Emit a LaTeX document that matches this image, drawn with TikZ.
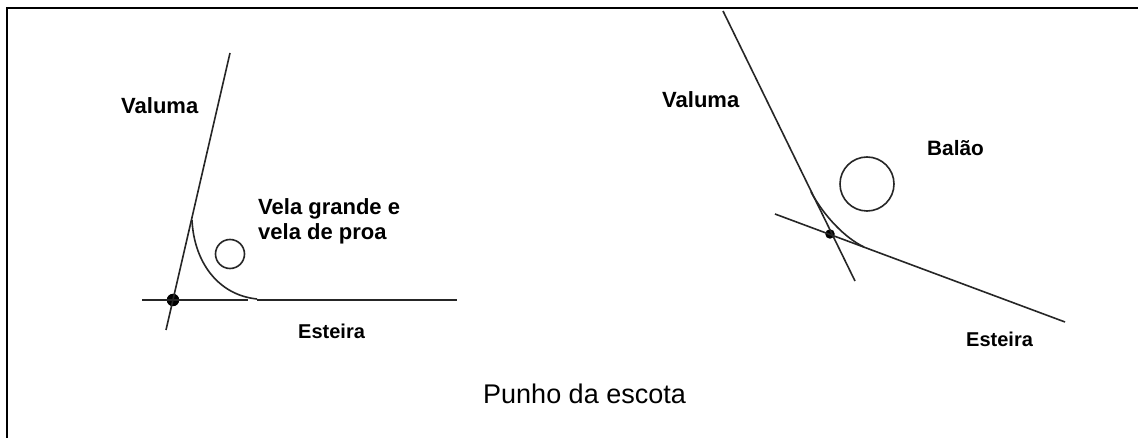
\documentclass[tikz,border=0pt]{standalone}
\usepackage{fontspec}
\setmainfont{Liberation Sans}
\tikzset{
  x=1pt,y=-1pt,
  sail/.style={line width=1.6pt,black!85},
  lbl/.style={inner sep=0pt,anchor=base west,font=\fontsize{22}{26}\selectfont\bfseries},
  lblsm/.style={lbl,font=\fontsize{20}{24}\selectfont\bfseries},
  lblmd/.style={lbl,font=\fontsize{20.8}{25}\selectfont\bfseries},
  ttl/.style={inner sep=0pt,anchor=base west,font=\fontsize{27}{32}\selectfont},
  dotm/.style={circle,fill=black,inner sep=0pt,minimum size=12.5pt},
}
\begin{document}
\begin{tikzpicture}
\useasboundingbox (0,0) rectangle (1138,438);
\fill[white] (0,0) rectangle (1138,438);
\draw[line width=2pt] (7,438) -- (7,8) -- (1138,8);
% left
\coordinate (la) at (230,53);
\coordinate (lb) at (166,330);
\coordinate (lc) at (142,300);
\coordinate (lg) at (248,300);
\coordinate (lh) at (257,300);
\coordinate (ld) at (457,300);
\node[dotm] (lp) at (173,300) {};
\draw[sail] (la) -- (lb);
\draw[sail] (lc) -- (lg);
\draw[sail] (lh) -- (ld);
\coordinate (lt) at (192,220);
\coordinate (lu) at (257,299);
\draw[sail] (lt) .. controls (194,262) and (218,295) .. (lu);
\node[draw,sail,circle,inner sep=0pt,minimum size=29pt] (lo) at (230,254) {};
% right
\coordinate (ra) at (723,11);
\coordinate (rb) at (855,281);
\coordinate (rc) at (775,214);
\coordinate (rd) at (1065,322);
\node[dotm,minimum size=9.5pt] (rp) at (830,234) {};
\draw[sail] (ra) -- (rb);
\draw[sail] (rc) -- (rd);
\coordinate (rt) at (811,192);
\coordinate (ru) at (864,247);
\draw[sail] (rt) .. controls (824,216) and (845,238) .. (ru);
\node[draw,sail,circle,inner sep=0pt,minimum width=51pt,minimum height=54pt] (ro) at (867,184) {};
% text
\node[lbl] (t1) at (121,114) {Valuma};
\node[lbl] (t2) at (258,215) {Vela grande e};
\node[lbl] (t3) at (258,240) {vela de proa};
\node[lblsm] (t4) at (298,338) {Esteira};
\node[lbl] (t5) at (662,108) {Valuma};
\node[lblmd] (t6) at (927,156) {Balão};
\node[lblsm] (t7) at (966,347) {Esteira};
\node[ttl] (t8) at (483,403) {Punho da escota};
\end{tikzpicture}
\end{document}
